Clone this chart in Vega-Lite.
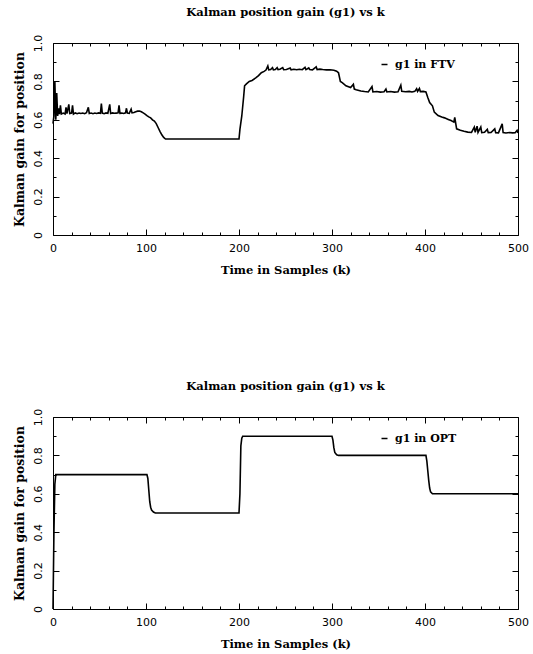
{
  "$schema": "https://vega.github.io/schema/vega-lite/v6.json",
  "padding": {"left": 12, "top": 6, "right": 5, "bottom": 1},
  "background": "white",
  "config": {
    "view": {"stroke": "black", "strokeWidth": 1},
    "font": "DejaVu Serif",
    "axis": {"domain": false, "grid": false, "tickColor": "black", "tickWidth": 1, "labelColor": "black", "titleColor": "black", "labelFont": "DejaVu Sans", "labelFontSize": 11, "titleFont": "DejaVu Serif", "titleFontSize": 11.5, "titleFontWeight": "bold"},
    "axisY": {"titleFontSize": 12.5},
    "title": {"font": "DejaVu Serif", "fontSize": 11.5, "fontWeight": "bold", "color": "black", "offset": 16},
    "legend": {"padding": 0}
  },
  "datasets": {
    "ftv": [
      {"k":0,"g":0.58},{"k":1,"g":0.62},{"k":2,"g":0.8},{"k":3,"g":0.6},{"k":4,"g":0.74},{"k":5,"g":0.62},{"k":6,"g":0.66},{"k":7,"g":0.63},{"k":8,"g":0.675},{"k":9,"g":0.63},{"k":11,"g":0.635},{"k":13,"g":0.63},{"k":14,"g":0.665},{"k":15,"g":0.632},{"k":17,"g":0.68},{"k":18,"g":0.633},{"k":20,"g":0.635},{"k":21,"g":0.675},{"k":22,"g":0.63},{"k":24,"g":0.636},{"k":26,"g":0.632},{"k":28,"g":0.635},{"k":30,"g":0.633},{"k":32,"g":0.635},{"k":34,"g":0.632},{"k":36,"g":0.637},{"k":38,"g":0.665},{"k":39,"g":0.633},{"k":41,"g":0.635},{"k":43,"g":0.632},{"k":45,"g":0.635},{"k":47,"g":0.633},{"k":49,"g":0.636},{"k":51,"g":0.634},{"k":52,"g":0.685},{"k":53,"g":0.635},{"k":55,"g":0.632},{"k":57,"g":0.636},{"k":59,"g":0.634},{"k":61,"g":0.68},{"k":62,"g":0.633},{"k":64,"g":0.636},{"k":66,"g":0.634},{"k":68,"g":0.635},{"k":70,"g":0.636},{"k":71,"g":0.675},{"k":72,"g":0.634},{"k":74,"g":0.635},{"k":76,"g":0.633},{"k":78,"g":0.636},{"k":79,"g":0.66},{"k":80,"g":0.635},{"k":82,"g":0.634},{"k":84,"g":0.655},{"k":85,"g":0.636},{"k":87,"g":0.638},{"k":89,"g":0.642},{"k":91,"g":0.645},{"k":93,"g":0.646},{"k":95,"g":0.642},{"k":97,"g":0.636},{"k":99,"g":0.63},{"k":101,"g":0.622},{"k":103,"g":0.615},{"k":105,"g":0.61},{"k":107,"g":0.6},{"k":109,"g":0.593},{"k":111,"g":0.58},{"k":113,"g":0.56},{"k":115,"g":0.54},{"k":117,"g":0.522},{"k":119,"g":0.508},{"k":121,"g":0.5},{"k":150,"g":0.5},{"k":200,"g":0.5},{"k":201,"g":0.55},{"k":203,"g":0.62},{"k":205,"g":0.72},{"k":206,"g":0.777},{"k":208,"g":0.787},{"k":211,"g":0.8},{"k":214,"g":0.805},{"k":218,"g":0.818},{"k":221,"g":0.83},{"k":224,"g":0.845},{"k":227,"g":0.852},{"k":229,"g":0.859},{"k":231,"g":0.88},{"k":232,"g":0.86},{"k":234,"g":0.862},{"k":236,"g":0.872},{"k":237,"g":0.86},{"k":239,"g":0.862},{"k":241,"g":0.872},{"k":242,"g":0.861},{"k":244,"g":0.863},{"k":247,"g":0.872},{"k":248,"g":0.861},{"k":251,"g":0.862},{"k":255,"g":0.87},{"k":256,"g":0.86},{"k":259,"g":0.863},{"k":262,"g":0.861},{"k":265,"g":0.863},{"k":268,"g":0.861},{"k":271,"g":0.873},{"k":272,"g":0.861},{"k":275,"g":0.87},{"k":276,"g":0.862},{"k":279,"g":0.86},{"k":283,"g":0.876},{"k":284,"g":0.862},{"k":287,"g":0.864},{"k":290,"g":0.862},{"k":294,"g":0.86},{"k":298,"g":0.861},{"k":302,"g":0.858},{"k":305,"g":0.853},{"k":307,"g":0.845},{"k":309,"g":0.8},{"k":311,"g":0.794},{"k":315,"g":0.777},{"k":320,"g":0.768},{"k":323,"g":0.785},{"k":324,"g":0.76},{"k":326,"g":0.756},{"k":331,"g":0.75},{"k":335,"g":0.747},{"k":339,"g":0.745},{"k":343,"g":0.773},{"k":344,"g":0.745},{"k":348,"g":0.747},{"k":352,"g":0.744},{"k":356,"g":0.746},{"k":358,"g":0.76},{"k":359,"g":0.745},{"k":363,"g":0.747},{"k":367,"g":0.744},{"k":371,"g":0.746},{"k":374,"g":0.78},{"k":375,"g":0.748},{"k":379,"g":0.746},{"k":383,"g":0.748},{"k":386,"g":0.745},{"k":389,"g":0.748},{"k":391,"g":0.762},{"k":392,"g":0.748},{"k":394,"g":0.763},{"k":395,"g":0.747},{"k":398,"g":0.748},{"k":401,"g":0.745},{"k":403,"g":0.716},{"k":405,"g":0.69},{"k":408,"g":0.673},{"k":410,"g":0.64},{"k":414,"g":0.622},{"k":418,"g":0.614},{"k":421,"g":0.61},{"k":425,"g":0.602},{"k":428,"g":0.596},{"k":431,"g":0.588},{"k":432,"g":0.613},{"k":434,"g":0.553},{"k":438,"g":0.545},{"k":442,"g":0.54},{"k":446,"g":0.536},{"k":450,"g":0.534},{"k":453,"g":0.562},{"k":454,"g":0.535},{"k":456,"g":0.567},{"k":457,"g":0.534},{"k":460,"g":0.562},{"k":461,"g":0.533},{"k":464,"g":0.535},{"k":467,"g":0.55},{"k":468,"g":0.533},{"k":471,"g":0.534},{"k":475,"g":0.553},{"k":476,"g":0.533},{"k":479,"g":0.532},{"k":483,"g":0.579},{"k":484,"g":0.533},{"k":487,"g":0.531},{"k":491,"g":0.534},{"k":494,"g":0.532},{"k":497,"g":0.533},{"k":499,"g":0.545},{"k":500,"g":0.532}
    ],
    "opt": [
      {"k":0,"g":0.0},{"k":1,"g":0.4},{"k":2,"g":0.65},{"k":3,"g":0.7},{"k":101,"g":0.7},{"k":102,"g":0.68},{"k":103,"g":0.62},{"k":104,"g":0.56},{"k":105,"g":0.53},{"k":106,"g":0.515},{"k":108,"g":0.505},{"k":110,"g":0.5},{"k":200,"g":0.5},{"k":201,"g":0.6},{"k":202,"g":0.85},{"k":203,"g":0.89},{"k":204,"g":0.9},{"k":300,"g":0.9},{"k":301,"g":0.88},{"k":302,"g":0.84},{"k":303,"g":0.815},{"k":305,"g":0.803},{"k":307,"g":0.8},{"k":401,"g":0.8},{"k":402,"g":0.77},{"k":403,"g":0.72},{"k":404,"g":0.67},{"k":405,"g":0.63},{"k":406,"g":0.61},{"k":408,"g":0.6},{"k":500,"g":0.6}
    ]
  },
  "vconcat": [
    {
      "data": {"name": "ftv"},
      "width": 465, "height": 192,
      "title": "Kalman position gain (g1) vs k",
      "layer": [
        {
          "mark": {"type": "line", "strokeWidth": 1.6},
          "encoding": {
            "x": {"field": "k", "type": "quantitative", "scale": {"domain": [0, 500], "nice": false, "zero": false},
              "axis": {"orient": "bottom", "values": [0,20,40,60,80,100,120,140,160,180,200,220,240,260,280,300,320,340,360,380,400,420,440,460,480,500], "title": "Time in Samples (k)", "labelExpr": "datum.value % 100 === 0 ? datum.label : ''", "tickSize": {"condition": {"test": "datum.value % 100 === 0", "value": -6}, "value": -3}, "labelPadding": 13, "labelFlush": false, "labelOverlap": false, "titlePadding": 8}},
            "y": {"field": "g", "type": "quantitative", "scale": {"domain": [0, 1], "nice": false},
              "axis": {"orient": "left", "values": [0,0.1,0.2,0.3,0.4,0.5,0.6,0.7,0.8,0.9,1.0], "title": "Kalman gain for position", "labelAngle": -90, "labelAlign": "center", "labelBaseline": "alphabetic", "labelExpr": "datum.value === 0 ? '0' : (round(datum.value*10) % 2 === 0 ? format(datum.value, '.1f') : '')", "tickSize": {"condition": {"test": "round(datum.value*10) % 2 === 0", "value": -6}, "value": -3}, "labelPadding": 18, "labelFlush": false, "labelOverlap": false, "titlePadding": 3}},
            "color": {"datum": "g1 in FTV", "type": "nominal", "scale": {"range": ["black"]},
              "legend": {"orient": "none", "legendX": 326, "legendY": 16, "title": null, "symbolType": "stroke", "symbolSize": 36, "symbolStrokeWidth": 1.5, "labelFont": "DejaVu Serif", "labelFontWeight": "bold", "labelFontSize": 11, "labelColor": "black", "labelOffset": 5}}
          }
        },
        {
          "mark": {"type": "line", "opacity": 0},
          "encoding": {
            "x": {"field": "k", "type": "quantitative", "scale": {"domain": [0, 500], "nice": false, "zero": false},
              "axis": {"orient": "top", "values": [0,20,40,60,80,100,120,140,160,180,200,220,240,260,280,300,320,340,360,380,400,420,440,460,480,500], "labels": false, "title": null, "tickSize": {"condition": {"test": "datum.value % 100 === 0", "value": -6}, "value": -3}}},
            "y": {"field": "g", "type": "quantitative", "scale": {"domain": [0, 1], "nice": false},
              "axis": {"orient": "right", "values": [0,0.1,0.2,0.3,0.4,0.5,0.6,0.7,0.8,0.9,1.0], "labels": false, "title": null, "tickSize": {"condition": {"test": "round(datum.value*10) % 2 === 0", "value": -6}, "value": -3}}}
          }
        }
      ],
      "resolve": {"axis": {"x": "independent", "y": "independent"}}
    },
    {
      "data": {"name": "opt"},
      "width": 465, "height": 192,
      "title": "Kalman position gain (g1) vs k",
      "layer": [
        {
          "mark": {"type": "line", "strokeWidth": 1.6},
          "encoding": {
            "x": {"field": "k", "type": "quantitative", "scale": {"domain": [0, 500], "nice": false, "zero": false},
              "axis": {"orient": "bottom", "values": [0,20,40,60,80,100,120,140,160,180,200,220,240,260,280,300,320,340,360,380,400,420,440,460,480,500], "title": "Time in Samples (k)", "labelExpr": "datum.value % 100 === 0 ? datum.label : ''", "tickSize": {"condition": {"test": "datum.value % 100 === 0", "value": -6}, "value": -3}, "labelPadding": 13, "labelFlush": false, "labelOverlap": false, "titlePadding": 8}},
            "y": {"field": "g", "type": "quantitative", "scale": {"domain": [0, 1], "nice": false},
              "axis": {"orient": "left", "values": [0,0.1,0.2,0.3,0.4,0.5,0.6,0.7,0.8,0.9,1.0], "title": "Kalman gain for position", "labelAngle": -90, "labelAlign": "center", "labelBaseline": "alphabetic", "labelExpr": "datum.value === 0 ? '0' : (round(datum.value*10) % 2 === 0 ? format(datum.value, '.1f') : '')", "tickSize": {"condition": {"test": "round(datum.value*10) % 2 === 0", "value": -6}, "value": -3}, "labelPadding": 18, "labelFlush": false, "labelOverlap": false, "titlePadding": 3}},
            "color": {"datum": "g1 in OPT", "type": "nominal", "scale": {"range": ["black"]},
              "legend": {"orient": "none", "legendX": 326, "legendY": 16, "title": null, "symbolType": "stroke", "symbolSize": 36, "symbolStrokeWidth": 1.5, "labelFont": "DejaVu Serif", "labelFontWeight": "bold", "labelFontSize": 11, "labelColor": "black", "labelOffset": 5}}
          }
        },
        {
          "mark": {"type": "line", "opacity": 0},
          "encoding": {
            "x": {"field": "k", "type": "quantitative", "scale": {"domain": [0, 500], "nice": false, "zero": false},
              "axis": {"orient": "top", "values": [0,20,40,60,80,100,120,140,160,180,200,220,240,260,280,300,320,340,360,380,400,420,440,460,480,500], "labels": false, "title": null, "tickSize": {"condition": {"test": "datum.value % 100 === 0", "value": -6}, "value": -3}}},
            "y": {"field": "g", "type": "quantitative", "scale": {"domain": [0, 1], "nice": false},
              "axis": {"orient": "right", "values": [0,0.1,0.2,0.3,0.4,0.5,0.6,0.7,0.8,0.9,1.0], "labels": false, "title": null, "tickSize": {"condition": {"test": "round(datum.value*10) % 2 === 0", "value": -6}, "value": -3}}}
          }
        }
      ],
      "resolve": {"axis": {"x": "independent", "y": "independent"}}
    }
  ],
  "spacing": 104,
  "resolve": {"scale": {"color": "independent"}, "legend": {"color": "independent"}}
}
